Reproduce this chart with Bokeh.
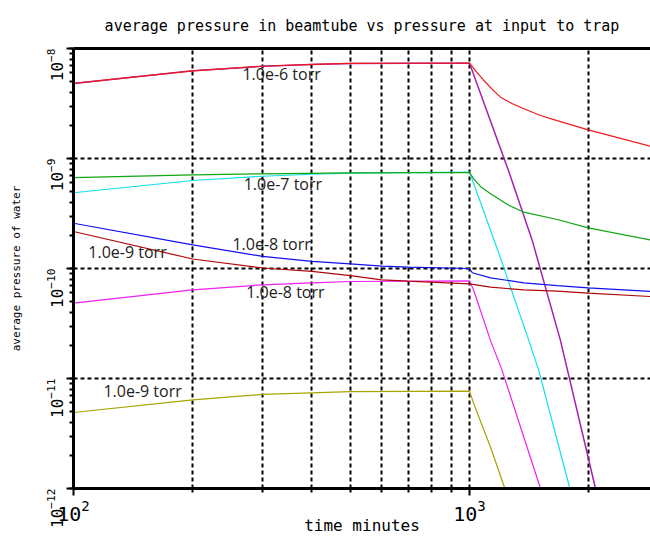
import math
from bokeh.plotting import figure
from bokeh.models import LogAxis, FixedTicker, ColumnDataSource, LogTickFormatter
from bokeh.core.properties import value
from bokeh.embed import file_html
from bokeh.resources import INLINE

# ---------------- data (time in minutes, pressure in torr) ----------------
t_red = [100, 200, 300, 400, 500, 700, 1000, 1040, 1087, 1140, 1197, 1280, 1371, 1510, 1665, 1994, 2864]
p_red = [4.81e-9, 6.27e-9, 6.90e-9, 7.16e-9, 7.31e-9, 7.34e-9, 7.36e-9,
         6.17e-9, 5.12e-9, 4.27e-9, 3.61e-9, 3.16e-9, 2.83e-9, 2.46e-9, 2.21e-9, 1.82e-9, 1.29e-9]

t_purple = [100, 200, 300, 400, 500, 700, 1000, 1254, 1440, 1697, 2080]
p_purple = [4.81e-9, 6.27e-9, 6.90e-9, 7.16e-9, 7.31e-9, 7.34e-9, 7.36e-9,
            7.78e-10, 1.80e-10, 2.21e-11, 1.0e-12]

t_green = [100, 200, 300, 500, 1000, 1025, 1070, 1130, 1250, 1371, 1665, 1994, 2864]
p_green = [6.71e-10, 7.11e-10, 7.26e-10, 7.40e-10, 7.46e-10,
           6.53e-10, 5.50e-10, 4.78e-10, 3.80e-10, 3.25e-10, 2.79e-10, 2.34e-10, 1.82e-10]

t_cyan = [100, 200, 300, 400, 500, 1000, 1179, 1412, 1496, 1792]
p_cyan = [4.88e-10, 6.31e-10, 6.90e-10, 7.19e-10, 7.35e-10, 7.52e-10,
          1.46e-10, 2.21e-11, 1.18e-11, 1.0e-12]

t_blue = [100, 200, 300, 400, 500, 600, 700, 1000, 1016, 1130, 1371, 1665, 1994, 2864]
p_blue = [2.58e-10, 1.64e-10, 1.29e-10, 1.16e-10, 1.10e-10, 1.05e-10, 1.03e-10, 1.00e-10,
          9.14e-11, 8.22e-11, 7.41e-11, 7.00e-11, 6.67e-11, 6.18e-11]

t_darkred = [100, 200, 300, 400, 500, 600, 700, 1000, 1130, 1371, 1665, 1994, 2864]
p_darkred = [2.17e-10, 1.22e-10, 1.01e-10, 9.40e-11, 8.63e-11, 7.89e-11, 7.67e-11, 7.26e-11,
             6.76e-11, 6.40e-11, 6.22e-11, 5.96e-11, 5.56e-11]

t_magenta = [100, 200, 300, 400, 500, 1000, 1025, 1130, 1209, 1511]
p_magenta = [4.84e-11, 6.40e-11, 7.10e-11, 7.41e-11, 7.62e-11, 7.73e-11,
             6.31e-11, 2.21e-11, 1.18e-11, 1.0e-12]

t_olive = [100, 200, 300, 400, 500, 1000, 1025, 1130, 1228]
p_olive = [4.91e-12, 6.40e-12, 7.16e-12, 7.41e-12, 7.59e-12, 7.67e-12,
           5.89e-12, 2.37e-12, 1.0e-12]

label_text = ["1.0e-6 torr", "1.0e-7 torr", "1.0e-8 torr", "1.0e-9 torr", "1.0e-8 torr", "1.0e-9 torr"]
label_t = [267, 269, 252, 109, 273, 119]
label_p = [5.89e-9, 5.89e-10, 1.68e-10, 1.41e-10, 6.10e-11, 7.67e-12]

x_major_ticks = [100, 1000]
x_minor_ticks = [200, 300, 400, 500, 600, 700, 800, 900, 2000]

title_text = "average pressure in beamtube vs pressure at input to trap"
x_label = "time minutes"
y_label = "average pressure of water"

# ---------------- figure ----------------
MONO = "DejaVu Sans Mono"

p = figure(width=650, height=537, x_axis_type="log", y_axis_type="log",
           x_range=(100, 2864), y_range=(1e-12, 1e-8),
           output_backend="svg", toolbar_location=None,
           min_border_left=73, min_border_right=0, min_border_top=48, min_border_bottom=49)
p.outline_line_color = None
p.background_fill_color = "white"
p.border_fill_color = "white"

p.title.text = title_text
p.title.text_font = MONO
p.title.text_font_size = "15px"
p.title.text_font_style = "normal"
p.title.align = "center"
p.title.vertical_align = "bottom"
p.title.text_color = "black"
p.title.standoff = 27

xt = FixedTicker(ticks=x_major_ticks, minor_ticks=x_minor_ticks)
p.xaxis[0].ticker = xt
p.xgrid[0].ticker = xt
p.xaxis[0].formatter = LogTickFormatter()

# axes
for ax in (p.xaxis[0], p.yaxis[0]):
    ax.axis_line_width = 3
    ax.axis_line_color = "black"
    ax.major_tick_line_color = "black"
    ax.minor_tick_line_color = "black"
    ax.major_tick_line_width = 2
    ax.minor_tick_line_width = 2
    ax.major_tick_in = 0
    ax.minor_tick_in = 0
    ax.major_tick_out = 7
    ax.minor_tick_out = 4
    ax.major_label_text_font = MONO
    ax.major_label_text_color = "black"
    ax.axis_label_text_font = MONO
    ax.axis_label_text_font_style = "normal"
    ax.axis_label_text_color = "black"

p.xaxis[0].axis_label = x_label
p.xaxis[0].axis_label_text_font_size = "16px"
p.xaxis[0].major_label_text_font_size = "20px"
p.xaxis[0].major_label_standoff = 4
p.xaxis[0].axis_label_standoff = -8

p.yaxis[0].axis_label = y_label
p.yaxis[0].axis_label_text_font_size = "11px"
p.yaxis[0].major_label_text_font_size = "16px"
p.yaxis[0].major_label_orientation = math.pi / 2
p.yaxis[0].major_label_standoff = 12
p.yaxis[0].axis_label_standoff = 12

top_axis = LogAxis(ticker=FixedTicker(ticks=[]), axis_line_width=3, axis_line_color="black",
                   major_tick_out=0, minor_tick_out=0, major_label_standoff=0)
p.add_layout(top_axis, "above")

# grid
p.xgrid.grid_line_color = "black"
p.xgrid.grid_line_dash = "4 3"
p.xgrid.grid_line_width = 2
p.xgrid.minor_grid_line_color = "black"
p.xgrid.minor_grid_line_dash = "4 3"
p.xgrid.minor_grid_line_width = 2
p.ygrid.grid_line_color = "black"
p.ygrid.grid_line_dash = "4 3"
p.ygrid.grid_line_width = 2
p.ygrid.minor_grid_line_color = None

# curves
p.line(t_purple, p_purple, line_color="#a81fb0", line_width=1.5)
p.line(t_red, p_red, line_color="#f01818", line_width=1.2)
p.line(t_cyan, p_cyan, line_color="#10e0e8", line_width=1.2)
p.line(t_green, p_green, line_color="#12a512", line_width=1.2)
p.line(t_magenta, p_magenta, line_color="#f020f0", line_width=1.2)
p.line(t_darkred, p_darkred, line_color="#b00808", line_width=1.2)
p.line(t_blue, p_blue, line_color="#1010f0", line_width=1.2)
p.line(t_olive, p_olive, line_color="#a8a400", line_width=1.2)

src = ColumnDataSource(dict(x=label_t, y=label_p, text=label_text))
p.text(x="x", y="y", text="text", source=src, text_font=value("Open Sans"),
       text_font_size="16px", text_color="#222222", text_align="left", text_baseline="middle")

open("out.html", "w").write(file_html(p, INLINE))
